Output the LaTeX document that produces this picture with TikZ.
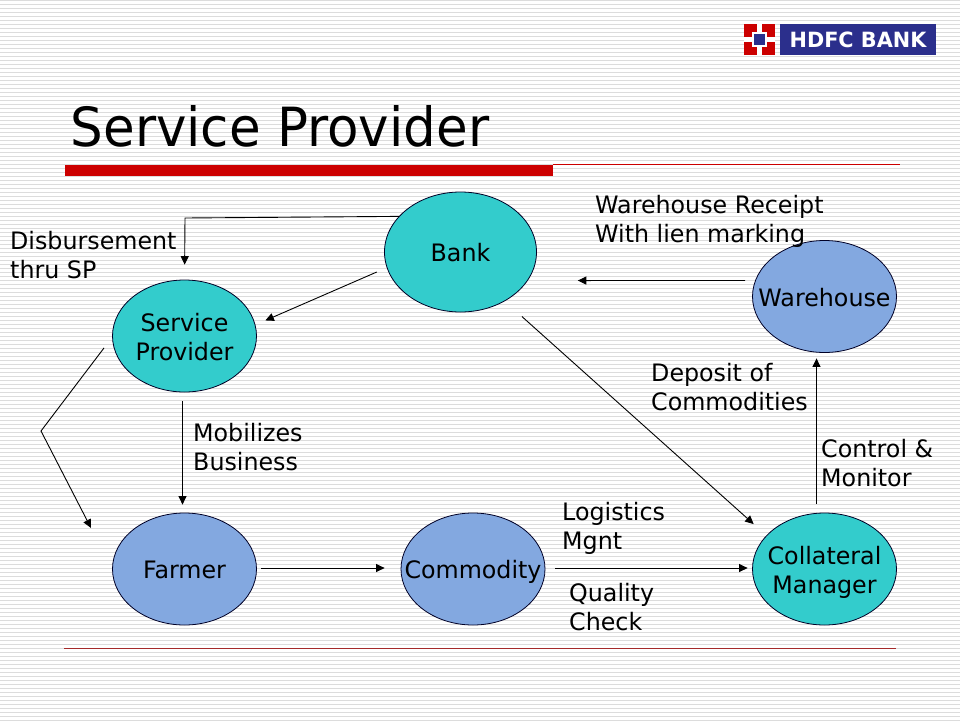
\documentclass[tikz,border=0pt]{standalone}
\usepackage{fontspec}
\setmainfont{DejaVu Sans}[FakeStretch=0.99]
\newfontfamily\titlefont{DejaVu Sans}[FakeStretch=0.953]
\usetikzlibrary{shapes.geometric,arrows.meta}
\definecolor{stripe}{HTML}{DCDCDC}
\definecolor{teal}{HTML}{33CCCC}
\definecolor{sky}{HTML}{83A8E0}
\definecolor{barred}{HTML}{CC0000}
\definecolor{deepred}{HTML}{A52A2A}
\definecolor{navy}{HTML}{2B2F8C}
\newcommand\inell[1]{\raisebox{-10pt}[0pt][0pt]{\makebox[0pt]{\begin{tabular}[c]{@{}c@{}}#1\end{tabular}}}}
\tikzset{
 x=1pt,y=-1pt,
 ell/.style={ellipse,draw=black!85!blue,line width=0.8pt,minimum width=144pt,minimum height=112pt,inner sep=0pt,font=\fontsize{24}{29}\selectfont},
 tealell/.style={ell,fill=teal},
 skyell/.style={ell,fill=sky},
 lab/.style={anchor=west,align=left,inner sep=0pt,font=\fontsize{24}{29}\selectfont},
 arr/.style={draw=black,line width=0.9pt,-{Triangle[length=8.5pt,width=8pt]}},
}
\begin{document}
\begin{tikzpicture}
\useasboundingbox (0,0) rectangle (960,720);
\fill[white] (0,0) rectangle (960,720);
\foreach \k in {0,...,180} {\fill[stripe] (0,4*\k) rectangle (960,4*\k+1.4);}
% logo
\fill[barred] (744,24) rectangle (775,55);
\fill[white] (752,32) rectangle (767,47);
\fill[white] (757,24) rectangle (762,55);
\fill[white] (744,37) rectangle (775,42);
\fill[navy] (754,34) rectangle (765,45);
\node[fill=navy,minimum width=156pt,minimum height=31pt,inner sep=0pt,text=white,font=\bfseries\fontsize{21}{20}\selectfont] (logo) at (858,39.5) {HDFC BANK\hspace{4pt}};
% title and rules
\node[anchor=base west,inner sep=0pt,font=\titlefont\fontsize{54}{60}\selectfont] (title) at (70.5,146) {Service Provider};
\fill[barred] (64.5,165) rectangle (553,176);
\draw[barred,line width=1pt] (553,164.5) -- (900,164.5);
\draw[deepred,line width=1pt] (64,648.5) -- (896,648.5);
% nodes
\node[tealell,minimum width=152pt,minimum height=120pt] (bank) at (460.5,252) {\inell{Bank}};
\node[tealell] (sp) at (184.5,336) {\inell{Service\hspace{0.32em}\\Provider}};
\node[skyell] (farmer) at (184.5,569) {\inell{Farmer}};
\node[skyell] (commodity) at (473,569) {\inell{Commodity}};
\node[tealell] (collateral) at (824.5,569) {\inell{Collateral\\Manager}};
\node[skyell] (warehouse) at (824.5,296.5) {\inell{Warehouse}};
% free points
\coordinate (corner) at (185,218);
\coordinate (bend) at (41,431);
\coordinate (farmerin) at (91,528);
% connectors
\draw[arr,shorten >=15pt] (bank.150) -- (corner) -- (sp.north);
\draw[arr,shorten <=10.8pt,shorten >=10.8pt] (bank.192.3) -- (sp.9.5);
\draw[arr,shorten <=13.4pt] (sp.181.4) -- (bend) -- (farmerin);
\draw[arr,shorten <=9pt,shorten >=8pt] ([xshift=-2pt]sp.south) -- ([xshift=-2pt]farmer.north);
\draw[arr,shorten <=4.5pt,shorten >=16pt] ([yshift=1pt]farmer.east) -- ([yshift=1pt]commodity.west);
\draw[arr,shorten <=10pt,shorten >=4.5pt] ([yshift=1pt]commodity.east) -- ([yshift=1pt]collateral.west);
\draw[arr,shorten <=23pt,shorten >=17pt] (bank.-48.8) -- (collateral.150);
\draw[arr,shorten <=9pt,shorten >=5.5pt] ([xshift=-8pt]collateral.north) -- ([xshift=-8pt]warehouse.south);
\draw[arr,shorten <=10pt,shorten >=50pt] (warehouse.167.4) -- (bank.-23.6);
% labels
\node[lab] (l1) at (10,255.5) {Disbursement\\thru SP};
\node[lab] (l2) at (595,221) {Warehouse Receipt\\With lien marking};
\node[lab] (l3) at (193,447) {Mobilizes\\Business};
\node[lab] (l4) at (651,387) {Deposit of\\Commodities};
\node[lab] (l5) at (821,463) {Control \&\\Monitor};
\node[lab] (l6) at (562,528.5) {Logistics\\Mgnt};
\node[lab] (l7) at (569,607) {Quality\\Check};
\end{tikzpicture}
\end{document}
